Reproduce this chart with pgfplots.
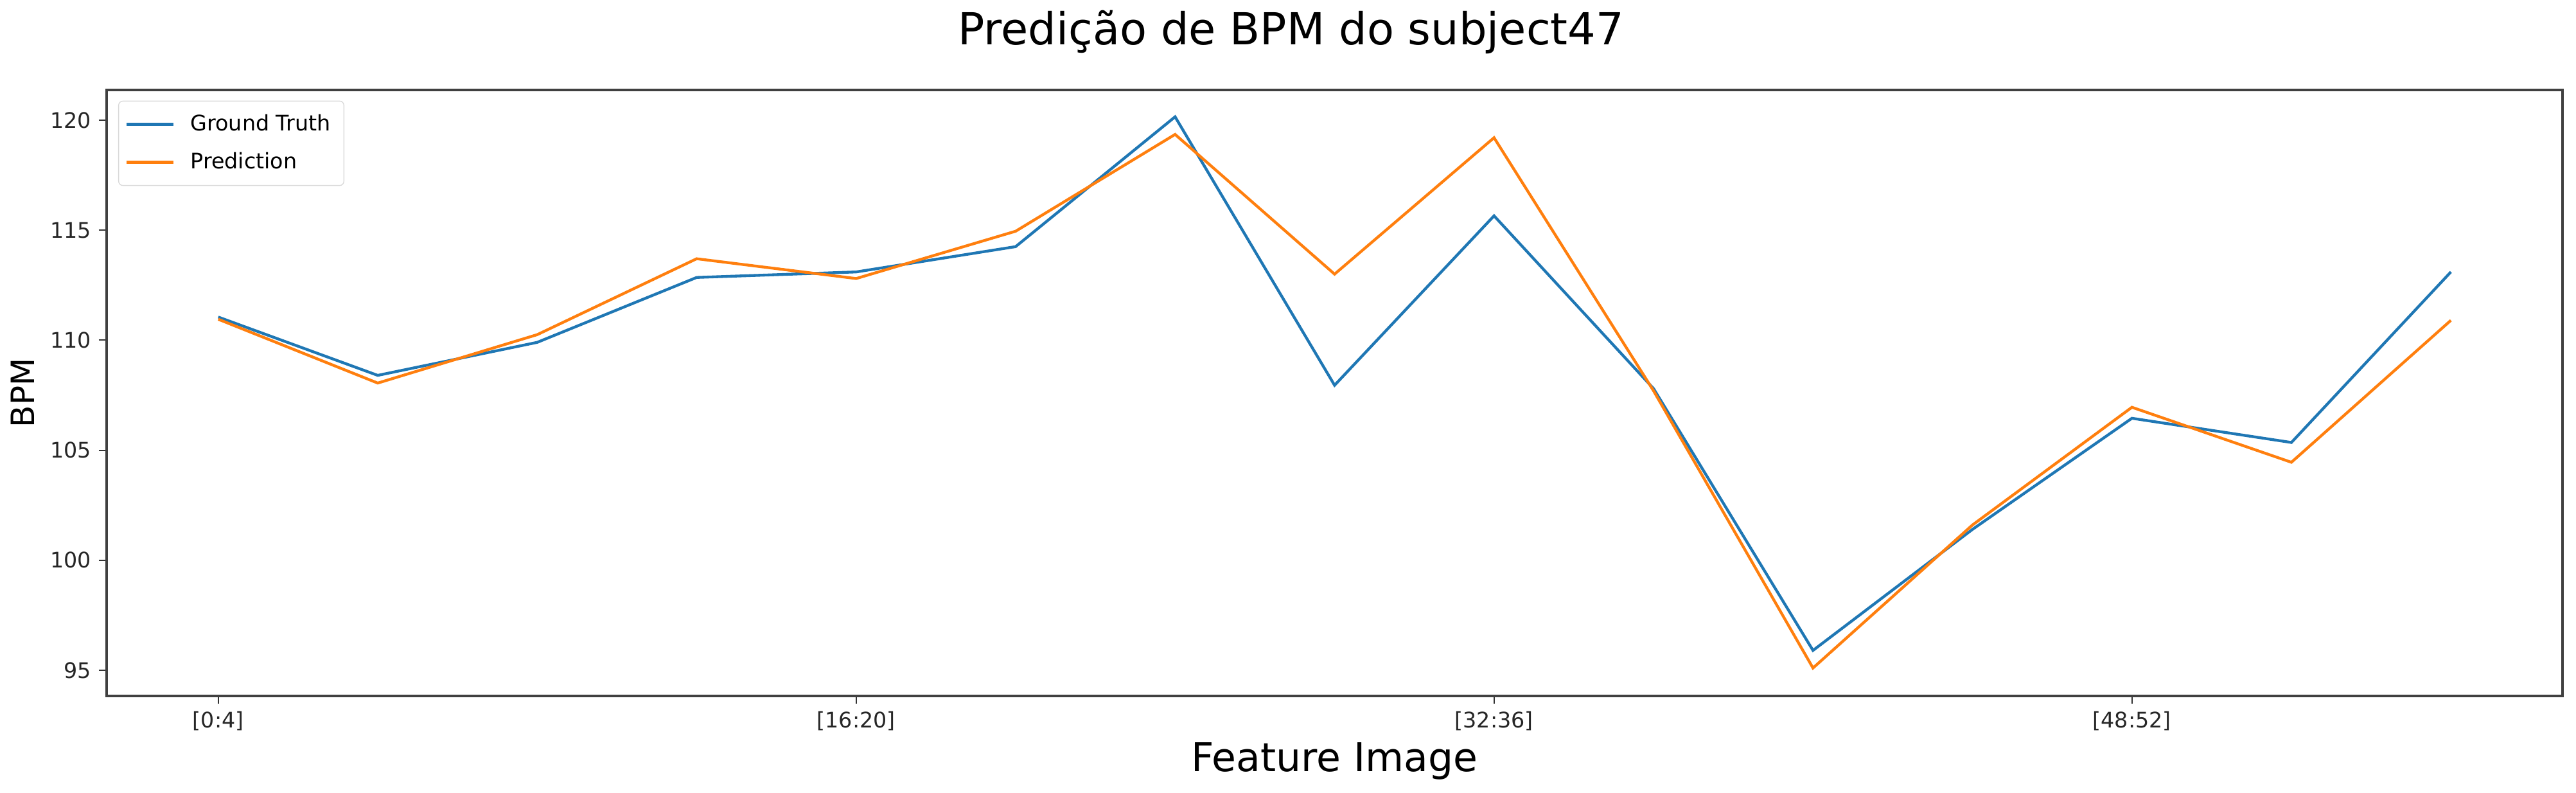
\documentclass[border=0pt]{standalone}
\usepackage{fontspec}
\setmainfont{DejaVu Sans}
\usepackage{pgfplots}
\pgfplotsset{compat=1.18}
\definecolor{c0}{HTML}{1F77B4}
\definecolor{c1}{HTML}{FF7F0E}
\begin{document}
\begin{tikzpicture}
\useasboundingbox (-49.8pt,-45pt) rectangle (1153.2pt,324.9pt);
\begin{axis}[
  name=ax, at={(0,0)}, anchor=south west,
  scale only axis, width=1146.9pt, height=282.9pt,
  xmin=-0.7, xmax=14.7, ymin=93.83, ymax=121.37,
  xtick={0,4,8,12},
  xticklabels={{[0:4]},{[16:20]},{[32:36]},{[48:52]}},
  ytick={95,100,105,110,115,120},
  /pgf/number format/assume math mode=true,
  tick label style={font=\fontsize{10}{12}\selectfont, color=black!85},
  tick align=outside, tick pos=left,
  major tick length=3.7pt,
  tick style={black!80, line width=0.6pt},
  axis line style={black!75, line width=1.1pt},
  every axis title shift=0pt,
  title={Predição de BPM do subject47},
  title style={font=\fontsize{20.6}{24}\selectfont, inner sep=0pt, at={(axis description cs:0.4823,1)}, anchor=base, yshift=21pt},
  xlabel={Feature Image},
  xlabel style={font=\fontsize{18.5}{22}\selectfont, inner sep=0pt, at={(axis description cs:0.5,0)}, anchor=base, yshift=-35.1pt},
  ylabel={BPM},
  ylabel style={font=\fontsize{15}{18}\selectfont, inner sep=0pt, at={(axis description cs:0,0.5)}, anchor=base, yshift=33.6pt},
  legend style={at={(axis description cs:0,1)}, anchor=north west, xshift=5.4pt, yshift=-5pt,
    draw=black!15, rounded corners=2pt, fill=white, font=\fontsize{10}{12}\selectfont,
    inner xsep=3pt, inner ysep=3pt, row sep=2pt, column sep=4pt,
    nodes={inner sep=3.3pt}},
  legend cell align=left,
  legend image code/.code={\draw[#1] (0pt,0pt) -- (22pt,0pt);},
]
\addplot[c0, line width=1.3pt] coordinates {
(0,111.05) (1,108.4) (2,109.9) (3,112.85) (4,113.1) (5,114.25) (6,120.15) (7,107.95)
(8,115.65) (9,107.8) (10,95.9) (11,101.4) (12,106.45) (13,105.35) (14,113.1)};
\addlegendentry{Ground Truth}
\addplot[c1, line width=1.3pt] coordinates {
(0,110.95) (1,108.05) (2,110.25) (3,113.7) (4,112.8) (5,114.95) (6,119.35) (7,113.0)
(8,119.2) (9,107.7) (10,95.1) (11,101.6) (12,106.95) (13,104.45) (14,110.9)};
\addlegendentry{Prediction}
\end{axis}
\end{tikzpicture}
\end{document}
